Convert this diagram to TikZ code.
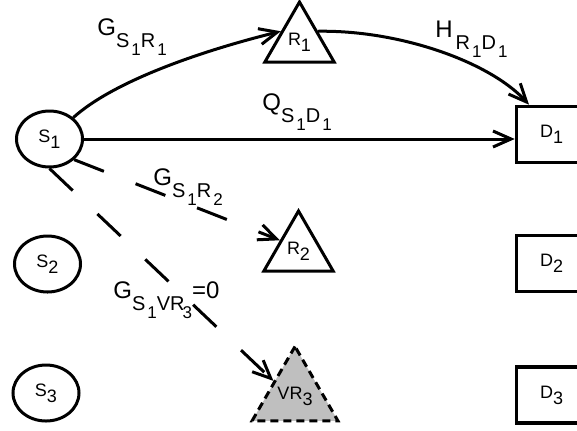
\documentclass[tikz,border=0pt]{standalone}
\usepackage{fontspec}
\setmainfont{Liberation Sans}
\usetikzlibrary{shapes.geometric, arrows.meta}

% lowered indices for node names and link gains
\newcommand{\nsub}[1]{\raisebox{-3pt}{#1}}
\newcommand{\esub}[1]{\raisebox{-6pt}{\fontsize{10}{10}\selectfont #1}}
\newcommand{\essub}[1]{\kern1pt\raisebox{-4pt}{\fontsize{8.5}{8.5}\selectfont #1}}

\begin{document}
\begin{tikzpicture}[
    x=0.5pt, y=-0.5pt,
    font=\fontsize{9}{10}\selectfont,
    source/.style={ellipse, draw, line width=1.5pt, minimum width=33pt,
                   minimum height=28pt, inner sep=0pt},
    relay/.style={regular polygon, regular polygon sides=3, draw,
                  line width=1.5pt, minimum size=40pt, inner sep=0pt},
    vrelay/.style={relay, fill=black!25, dash pattern=on 4pt off 2.5pt},
    dest/.style={rectangle, draw, line width=1.8pt, minimum width=35pt,
                 minimum height=28pt},
    arr/.style={-{Straight Barb[length=9pt, width=8pt]}, line width=1.5pt},
    dasharr/.style={arr, dash pattern=on 16pt off 17pt},
    lbl/.style={anchor=base west, inner sep=0pt, font=\fontsize{12}{14}\selectfont}
  ]
  \useasboundingbox (0,0) rectangle (577,430);

  \node[source] (S1) at (49.5,139) {S\nsub{1}};
  \node[source] (S2) at (47.5,264) {S\nsub{2}};
  \node[source] (S3) at (46,393)   {S\nsub{3}};

  \node[relay]  (R1)  at (299.5,42) {R\nsub{1}};
  \node[relay]  (R2)  at (298.5,251) {R\nsub{2}};
  \node[vrelay] (VR3) at (295,396)  {VR\nsub{3}};

  \node[dest] (D1) at (551.5,134.5) {D\nsub{1}};
  \node[dest] (D2) at (551.5,263.5) {D\nsub{2}};
  \node[dest] (D3) at (551.5,395)   {D\nsub{3}};

  % links leaving S1
  \draw[arr] (S1) .. controls (115,80) and (205,50) .. (R1.150);
  \draw[arr] (R1.30) .. controls (400,30) and (490,62) .. (D1.127);
  \draw[arr] (S1.east) -- (S1.east -| D1.west);
  \draw[dasharr] (S1.-40) -- (R2.150);
  \draw[dasharr] (S1.south) -- (VR3.145);

  % gains
  \node[lbl] (gsr1)  at (97,35)   {G\esub{S\essub{1}R\essub{1}}};
  \node[lbl] (qsd1)  at (262,110) {Q\esub{S\essub{1}D\essub{1}}};
  \node[lbl] (hrd1)  at (435,37)  {H\kern1.5pt\esub{R\essub{1}D\essub{1}}};
  \node[lbl] (gsr2)  at (153,185) {G\esub{S\essub{1}R\essub{2}}};
  \node[lbl] (gsvr3) at (113,298) {G\esub{S\essub{1}VR\kern-2pt\essub{3}}=0};

\end{tikzpicture}
\end{document}
